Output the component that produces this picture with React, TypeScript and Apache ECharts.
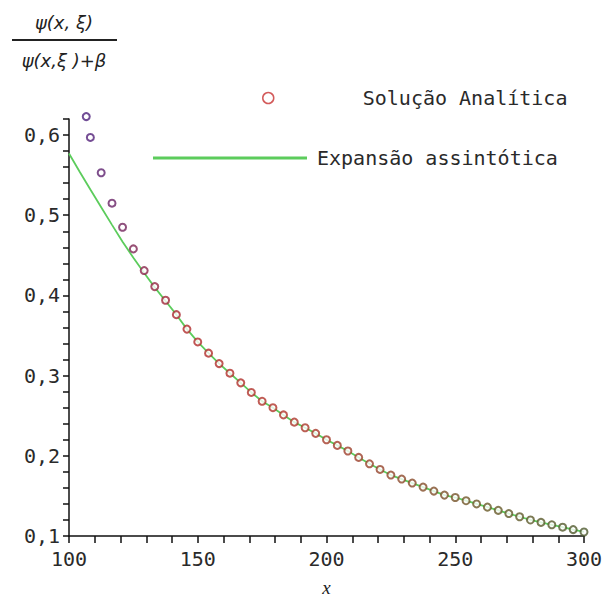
import React, { useEffect, useRef } from "react";
import * as echarts from "echarts";

// Analytic solution, sampled points
const analyticX = [
  106.7, 108.3, 112.5, 116.7, 120.8, 125, 129.2, 133.3, 137.5, 141.7, 145.8, 150,
  154.2, 158.3, 162.5, 166.7, 170.8, 175, 179.2, 183.3, 187.5, 191.7, 195.8, 200,
  204.2, 208.3, 212.5, 216.7, 220.8, 225, 229.2, 233.3, 237.5, 241.7, 245.8, 250,
  254.2, 258.3, 262.5, 266.7, 270.8, 275, 279.2, 283.3, 287.5, 291.7, 295.8, 300,
];
const analyticY = [
  0.623, 0.597, 0.553, 0.515, 0.485, 0.458, 0.431, 0.411, 0.394, 0.376, 0.358, 0.342,
  0.328, 0.315, 0.303, 0.291, 0.279, 0.268, 0.26, 0.251, 0.242, 0.235, 0.228, 0.22,
  0.213, 0.206, 0.198, 0.19, 0.183, 0.176, 0.171, 0.166, 0.161, 0.156, 0.151, 0.148,
  0.144, 0.14, 0.136, 0.132, 0.128, 0.124, 0.12, 0.117, 0.114, 0.111, 0.108, 0.105,
];

// Asymptotic expansion curve
const expansionX = [
  100, 104.2, 108.3, 112.5, 116.7, 120.8, 125, 129.2, 133.3, 137.5, 141.7, 145.8, 150,
  154.2, 158.3, 162.5, 166.7, 170.8, 175, 179.2, 183.3, 187.5, 191.7, 195.8, 200,
  204.2, 208.3, 212.5, 216.7, 220.8, 225, 229.2, 233.3, 237.5, 241.7, 245.8, 250,
  254.2, 258.3, 262.5, 266.7, 270.8, 275, 279.2, 283.3, 287.5, 291.7, 295.8, 300,
];
const expansionY = [
  0.577, 0.554, 0.532, 0.51, 0.488, 0.467, 0.447, 0.428, 0.41, 0.393, 0.376, 0.358, 0.342,
  0.328, 0.315, 0.303, 0.291, 0.279, 0.268, 0.26, 0.251, 0.242, 0.235, 0.228, 0.22,
  0.213, 0.206, 0.198, 0.19, 0.183, 0.176, 0.171, 0.166, 0.161, 0.156, 0.151, 0.148,
  0.144, 0.14, 0.136, 0.132, 0.128, 0.124, 0.12, 0.117, 0.114, 0.111, 0.108, 0.105,
];

const seriesNames = ["Solução Analítica", "Expansão assintótica"];
const titleNumerator = "ψ(x, ξ)";
const titleDenominator = "ψ(x,ξ )+β";
const xAxisName = "x";

const labelFont = "DejaVu Sans Mono";
const mathFont = 'italic 18px "DejaVu Sans"';

export default function App() {
  const ref = useRef<HTMLDivElement>(null);

  useEffect(() => {
    if (!ref.current) return;
    const chart = echarts.init(ref.current, undefined, { renderer: "svg" });

    const analyticData = analyticX.map((x, i) => [x, analyticY[i]]);
    const expansionData = expansionX.map((x, i) => [x, expansionY[i]]);

    const isMultiple = (v: number, step: number) =>
      Math.abs(v / step - Math.round(v / step)) < 1e-6;

    chart.setOption({
      animation: false,
      backgroundColor: "#ffffff",
      grid: { left: 69, right: 22, top: 119, bottom: 63, containLabel: false },
      xAxis: {
        type: "value",
        min: 100,
        max: 300,
        interval: 10,
        name: xAxisName,
        nameLocation: "middle",
        nameGap: 42,
        nameTextStyle: {
          fontFamily: "Liberation Serif",
          fontStyle: "italic",
          fontSize: 19,
          color: "#222",
        },
        axisLine: { onZero: false, lineStyle: { color: "#111", width: 1.5 } },
        axisTick: { show: true, length: 7, lineStyle: { color: "#111", width: 1.5 } },
        axisLabel: {
          margin: 13,
          fontFamily: labelFont,
          fontSize: 20,
          color: "#2a2a2a",
          formatter: (v: number) => (isMultiple(v, 50) ? String(v) : ""),
        },
        splitLine: { show: false },
      },
      yAxis: {
        type: "value",
        min: 0.1,
        max: 0.62,
        interval: 0.02,
        axisLine: { onZero: false, lineStyle: { color: "#111", width: 1.5 } },
        axisTick: { show: true, length: 6, lineStyle: { color: "#111", width: 1.5 } },
        axisLabel: {
          margin: 9,
          fontFamily: labelFont,
          fontSize: 20,
          color: "#2a2a2a",
          formatter: (v: number) =>
            isMultiple(v, 0.1) ? v.toFixed(1).replace(".", ",") : "",
        },
        splitLine: { show: false },
      },
      visualMap: {
        type: "continuous",
        show: false,
        seriesIndex: 1,
        dimension: 0,
        min: 105,
        max: 300,
        inRange: {
          color: ["#4a2080", "#b02a2a", "#b0352a", "#94442a", "#6a5a28", "#4e5a2e"],
        },
      },
      legend: [
        {
          data: [
            {
              name: seriesNames[0],
              icon: "circle",
              itemStyle: { color: "#ffffff", borderColor: "#c83232", borderWidth: 1.5 },
            },
          ],
          padding: 0,
          left: 262,
          top: 88,
          itemWidth: 11,
          itemHeight: 11,
          textStyle: {
            fontFamily: labelFont,
            fontSize: 20,
            color: "#2a2a2a",
            padding: [0, 0, 0, 84],
          },
        },
        {
          data: [
            {
              name: seriesNames[1],
              icon: "rect",
              itemStyle: { color: "#5ccc5c" },
            },
          ],
          padding: 0,
          left: 153,
          top: 148,
          itemWidth: 154,
          itemHeight: 3,
          textStyle: {
            fontFamily: labelFont,
            fontSize: 20,
            color: "#2a2a2a",
            padding: [0, 0, 0, 5],
          },
        },
      ],
      graphic: [
        {
          type: "text",
          x: 64,
          y: 22,
          style: {
            text: titleNumerator,
            font: mathFont,
            fill: "#222",
            align: "center",
            verticalAlign: "middle",
          },
        },
        {
          type: "line",
          shape: { x1: 12, y1: 40, x2: 117, y2: 40 },
          style: { stroke: "#222", lineWidth: 1.8 },
        },
        {
          type: "text",
          x: 64,
          y: 60,
          style: {
            text: titleDenominator,
            font: mathFont,
            fill: "#222",
            align: "center",
            verticalAlign: "middle",
          },
        },
      ],
      series: [
        {
          name: seriesNames[1],
          type: "line",
          data: expansionData,
          symbol: "none",
          lineStyle: { color: "#5ccc5c", width: 1.8 },
          itemStyle: { color: "#5ccc5c" },
          z: 2,
        },
        {
          name: seriesNames[0],
          type: "scatter",
          data: analyticData,
          symbol: "emptyCircle",
          symbolSize: 7,
          clip: false,
          itemStyle: { borderWidth: 1.5 },
          z: 3,
        },
      ],
    });

    return () => chart.dispose();
  }, []);

  return (
    <div
      ref={ref}
      style={{ position: "fixed", left: 0, top: 0, width: 606, height: 602, background: "#fff" }}
    />
  );
}
